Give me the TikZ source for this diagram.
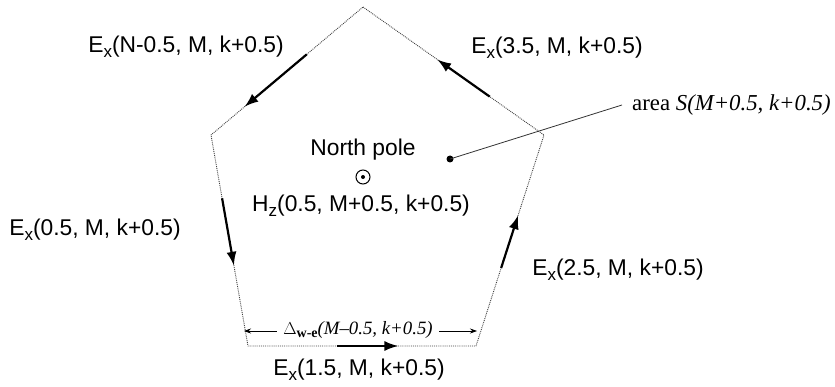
\documentclass[tikz,border=0pt]{standalone}
\usepackage{fontspec}
\setmainfont{Liberation Serif}
\setsansfont{Liberation Sans}
\usetikzlibrary{arrows.meta}
\newcommand\myEx{E\raisebox{-0.35ex}{\fontsize{17}{17}\selectfont x}}
\newcommand\myHz{H\raisebox{-0.35ex}{\fontsize{17}{17}\selectfont z}}
\begin{document}
\begin{tikzpicture}[x=1pt,y=-1pt,
  edge/.style={densely dotted, line width=0.9pt, black!75},
  field/.style={line width=2.2pt, -{Latex[length=14pt,width=10pt]}},
  lab/.style={font=\sffamily\fontsize{22.8}{26}\selectfont, inner sep=0pt},
  dim/.style={line width=0.7pt},
  leader/.style={line width=0.8pt, black!80}]
\useasboundingbox (0,0) rectangle (835,387);
% vertices
\coordinate (top) at (363,7);
\coordinate (rv) at (544,135);
\coordinate (br) at (476,346);
\coordinate (bl) at (248,346);
\coordinate (lv) at (211,135);
\draw[edge] (top) -- (rv) -- (br) -- (bl) -- (lv) -- cycle;
% field arrows along the edges
\path (top) -- (lv) coordinate[pos=0.37] (a1s) coordinate[pos=0.78] (a1e);
\draw[field] (a1s) -- (a1e);
\path (rv) -- (top) coordinate[pos=0.30] (a2s) coordinate[pos=0.59] (a2e);
\draw[field] (a2s) -- (a2e);
\path (lv) -- (bl) coordinate[pos=0.30] (a3s) coordinate[pos=0.62] (a3e);
\draw[field] (a3s) -- (a3e);
\path (br) -- (rv) coordinate[pos=0.37] (a4s) coordinate[pos=0.62] (a4e);
\draw[field] (a4s) -- (a4e);
\path (bl) -- (br) coordinate[pos=0.39] (a5s) coordinate[pos=0.66] (a5e);
\draw[field] (a5s) -- (a5e);
% labels
\node[lab] (lN) at (186,47) {\myEx(N-0.5, M, k+0.5)};
\node[lab] (l35) at (557,48) {\myEx(3.5, M, k+0.5)};
\node[lab] (l05) at (95,230) {\myEx(0.5, M, k+0.5)};
\node[lab] (l25) at (618,270) {\myEx(2.5, M, k+0.5)};
\node[lab] (l15) at (359,370) {\myEx(1.5, M, k+0.5)};
\node[lab] (np) at (363,150) {North pole};
\node[draw, circle, line width=1pt, minimum size=14pt, inner sep=0pt] (pole) at (363,177) {};
\fill (pole.center) circle (2pt);
\node[lab] (hz) at (361,206) {\myHz(0.5, M+0.5, k+0.5)};
% area leader
\node[circle, fill, inner sep=0pt, minimum size=7pt] (dot) at (450,159) {};
\node[font=\fontsize{22.8}{26}\selectfont, inner sep=0pt, anchor=west] (area) at (632,105) {area \textit{S(M+0.5, k+0.5)}};
\coordinate (lend) at (622,105);
\draw[leader] (dot.center) -- (lend);
% dimension
\coordinate (dl) at (244,331);
\coordinate (dr) at (477,331);
\node[font=\fontsize{18.8}{21}\selectfont, inner sep=0pt, minimum width=162pt] (dimlab) at (358,330) {$\Delta$\raisebox{-0.4ex}{\fontsize{14}{14}\selectfont\textbf{w-e}}\textit{(M--0.5, k+0.5)}};
\draw[dim, {Stealth[length=7pt,width=5pt]}-] (dl) -- (dimlab.west |- dl);
\draw[dim, -{Stealth[length=7pt,width=5pt]}] (dimlab.east |- dr) -- (dr);
\end{tikzpicture}
\end{document}
